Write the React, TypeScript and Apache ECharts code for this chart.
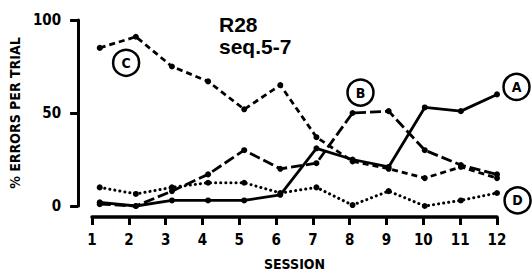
import React, { useEffect, useRef } from "react";
import * as echarts from "echarts";

const sessions = [1, 2, 3, 4, 5, 6, 7, 8, 9, 10, 11, 12];
const seriesA = [2, 0, 3, 3, 3, 6, 31, 25, 21, 53, 51, 60];
const seriesB = [1, 0, 8, 17, 30, 20, 23, 50, 51, 30, 22, 17];
const seriesC = [85, 91, 75, 67, 52, 65, 37, 24, 20, 15, 21, 15];
const seriesD = [10, 6.5, 10, 12.5, 12.5, 7, 10, 0.5, 8, 0, 3, 7];
const yTicks = [0, 50, 100];
const tags = ["A", "B", "C", "D"];
const tagX = [12.54, 8.22, 1.73, 12.57];
const tagY = [64, 61, 77, 3];

const FONT = '"DejaVu Sans Condensed", "DejaVu Sans", sans-serif';
const TFONT = '"Liberation Sans", Arial, sans-serif';
const INK = "#000";

export default function App() {
  const ref = useRef<HTMLDivElement>(null);
  useEffect(() => {
    document.body.style.margin = "0";
    const chart = echarts.init(ref.current!, null, { renderer: "svg" });
    const mk = (vals: number[]) => sessions.map((s, i) => [s, vals[i]]);
    const lineBase = {
      type: "line",
      xAxisIndex: 0,
      yAxisIndex: 0,
      symbol: "circle",
      symbolSize: 6,
      itemStyle: { color: INK, opacity: 1 },
      clip: false,
    };
    chart.setOption({
      animation: false,
      backgroundColor: "#fff",
      title: {
        text: "R28",
        subtext: "seq.5-7",
        left: 214,
        top: 8,
        itemGap: 0,
        textStyle: {
          fontFamily: TFONT,
          fontWeight: "bold",
          fontSize: 21,
          lineHeight: 22,
          color: INK,
        },
        subtextStyle: {
          fontFamily: TFONT,
          fontWeight: "bold",
          fontSize: 21,
          lineHeight: 22,
          color: INK,
        },
      },
      grid: [
        { left: 70, right: 35, top: 20, bottom: 70 },
        { left: 92, right: 35, top: 20, bottom: 53 },
      ],
      xAxis: [
        { type: "value", gridIndex: 0, min: 0.4, max: 12, show: false },
        {
          type: "value",
          gridIndex: 1,
          min: 1,
          max: 12,
          interval: 1,
          axisLine: { show: true, lineStyle: { color: INK, width: 3.5 } },
          axisTick: { show: true, length: 8, lineStyle: { color: INK, width: 3 } },
          axisLabel: {
            margin: 15,
            color: INK,
            fontFamily: FONT,
            fontWeight: "bold",
            fontSize: 15,
          },
          splitLine: { show: false },
          name: "SESSION",
          nameLocation: "middle",
          nameGap: 40,
          nameTextStyle: {
            color: INK,
            fontFamily: FONT,
            fontWeight: "bold",
            fontSize: 14,
          },
        },
      ],
      yAxis: [
        {
          type: "value",
          gridIndex: 0,
          min: 0,
          max: 100,
          interval: 50,
          axisLine: { show: true, lineStyle: { color: INK, width: 3 } },
          axisTick: { show: true, length: 8, lineStyle: { color: INK, width: 3 } },
          axisLabel: {
            margin: 17,
            color: INK,
            fontFamily: FONT,
            fontWeight: "bold",
            fontSize: 15,
            formatter: (v: number) => (yTicks.includes(v) ? String(v) : ""),
          },
          splitLine: { show: false },
          name: "% ERRORS PER TRIAL",
          nameLocation: "middle",
          nameRotate: 90,
          nameGap: 47,
          nameTextStyle: {
            color: INK,
            fontFamily: FONT,
            fontWeight: "bold",
            fontSize: 14,
          },
        },
        { type: "value", gridIndex: 1, show: false, min: 0, max: 100 },
      ],
      series: [
        { ...lineBase, name: "A", data: mk(seriesA), lineStyle: { color: INK, width: 2.8, type: "solid" } },
        { ...lineBase, name: "B", data: mk(seriesB), lineStyle: { color: INK, width: 2.8, type: [11, 4] } },
        { ...lineBase, name: "C", data: mk(seriesC), lineStyle: { color: INK, width: 2.8, type: [6, 4] } },
        {
          ...lineBase,
          name: "D",
          symbolSize: 6,
          data: mk(seriesD),
          lineStyle: { color: INK, width: 3, type: [0.1, 5], cap: "round" },
        },
        {
          type: "scatter",
          xAxisIndex: 0,
          yAxisIndex: 0,
          clip: false,
          symbol: "circle",
          symbolSize: 26,
          itemStyle: { color: "#fff", borderColor: INK, borderWidth: 2.5, opacity: 1 },
          label: {
            show: true,
            position: "inside",
            color: INK,
            fontFamily: FONT,
            fontWeight: "bold",
            fontSize: 14,
            formatter: (p: any) => tags[p.dataIndex],
          },
          data: tags.map((_, i) => [tagX[i], tagY[i]]),
          z: 5,
        },
      ],
    });
    return () => chart.dispose();
  }, []);
  return <div ref={ref} style={{ width: 532, height: 276 }} />;
}
